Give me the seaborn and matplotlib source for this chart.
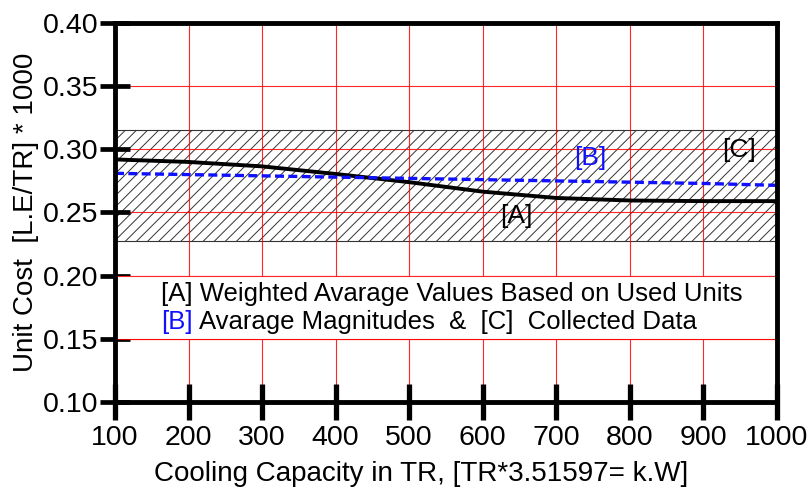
import numpy as np
import pandas as pd
import matplotlib
matplotlib.use("Agg")
import matplotlib.pyplot as plt
import seaborn as sns

# Cooling capacity (TR) and unit cost values
capacity = [100, 200, 300, 400, 500, 600, 700, 800, 900, 1000]
weighted_avg = [0.292, 0.290, 0.2865, 0.2805, 0.274, 0.2665, 0.2615, 0.2595, 0.259, 0.259]
avg_magnitude = [0.281, 0.280, 0.279, 0.278, 0.277, 0.276, 0.275, 0.274, 0.273, 0.2715]
collected_low = 0.2275
collected_high = 0.315

x_ticks = [100, 200, 300, 400, 500, 600, 700, 800, 900, 1000]
y_ticks = [0.10, 0.15, 0.20, 0.25, 0.30, 0.35, 0.40]

sns.set_theme(style="white", rc={"text.color": "black", "axes.labelcolor": "black",
                                 "xtick.color": "black", "ytick.color": "black",
                                 "xtick.bottom": True, "ytick.left": True})
plt.rcParams["font.family"] = ["Liberation Sans", "DejaVu Sans"]
plt.rcParams["hatch.linewidth"] = 0.7

df = pd.DataFrame({"capacity": capacity, "A": weighted_avg, "B": avg_magnitude})

fig = plt.figure(figsize=(8.11, 4.92), dpi=100)
ax = fig.add_axes([0.1418, 0.1829, 0.8162, 0.7704])

# collected data band
ax.fill_between([100, 1000], collected_low, collected_high, facecolor="white",
                edgecolor="#333333", hatch="///", linewidth=0.8, zorder=1)

# red grid
ax.set_axisbelow("line")
ax.grid(True, color="red", linewidth=0.8, alpha=0.85)

# white panel behind the notes, with its bounding grid lines redrawn
ax.axhspan(0.15, 0.20, facecolor="white", edgecolor="none", zorder=1.6)
for yv in (0.15, 0.20):
    ax.axhline(yv, color="red", linewidth=0.8, alpha=0.85, zorder=1.7)

sns.lineplot(data=df, x="capacity", y="A", ax=ax, color="black", linewidth=2.8, zorder=3)
sns.lineplot(data=df, x="capacity", y="B", ax=ax, color="#1010ff", linewidth=2.4, zorder=3)
ax.lines[-1].set_dashes((2.7, 1.3))

ax.set_xlim(100, 1000)
ax.set_ylim(0.10, 0.40)
ax.set_xticks(x_ticks)
ax.set_yticks(y_ticks)
ax.set_xticklabels([str(v) for v in x_ticks])
ax.set_yticklabels([f"{v:.2f}" for v in y_ticks])

ax.tick_params(axis="x", bottom=True, direction="inout", length=26.5, width=3.8,
               labelsize=20.5, pad=3, colors="black")
ax.tick_params(axis="y", left=True, direction="inout", length=21, width=3.4,
               labelsize=20.5, pad=1.5, colors="black")
for s in ax.spines.values():
    s.set_visible(True)
    s.set_linewidth(3.5)
    s.set_color("black")
    s.set_zorder(4)

ax.set_xlabel("Cooling Capacity in TR, [TR*3.51597= k.W]", fontsize=20, labelpad=8)
ax.xaxis.set_label_coords(0.462, -0.155)
ax.set_ylabel("Unit Cost  [L.E/TR] * 1000", fontsize=20, labelpad=3)

# curve tags
ax.text(645, 0.2475, "[A]", fontsize=19, color="black", ha="center", va="center", zorder=5)
ax.text(746, 0.2935, "[B]", fontsize=19, color="#1010ff", ha="center", va="center", zorder=5)
ax.text(948, 0.2995, "[C]", fontsize=19, color="black", ha="center", va="center", zorder=5)

# notes
ax.text(163, 0.1855, "[A] Weighted Avarage Values Based on Used Units", fontsize=18.5,
        color="black", ha="left", va="center", zorder=5)
ax.text(163, 0.163, "[B]", fontsize=18.5, color="#1010ff", ha="left", va="center", zorder=5)
ax.text(214, 0.163, "Avarage Magnitudes  &  [C]  Collected Data", fontsize=18.5,
        color="black", ha="left", va="center", zorder=5)

fig.savefig("out.png", dpi=100)
